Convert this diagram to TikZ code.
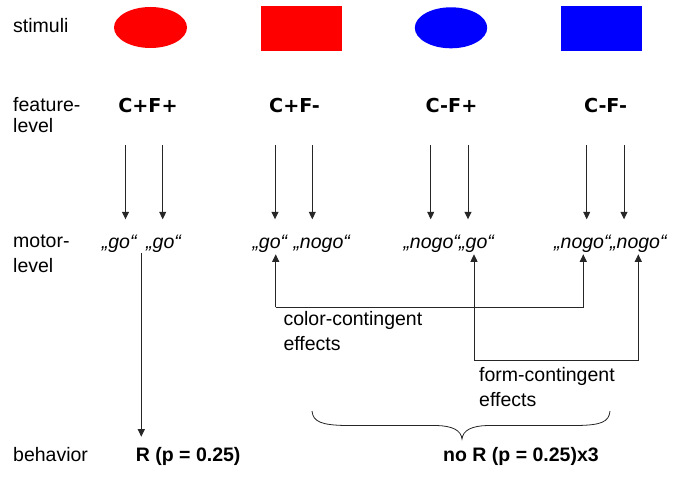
\documentclass[tikz,border=0pt]{standalone}
\usepackage{fontspec}
\setmainfont{Liberation Sans}
\newfontfamily\featfont{DejaVu Sans}
\usetikzlibrary{arrows.meta}
\begin{document}
\begin{tikzpicture}[x=1pt,y=-1pt,
  lbl/.style={anchor=base west,inner sep=0pt,font=\fontsize{19.5}{23}\selectfont},
  feat/.style={anchor=base,inner sep=0pt,font=\featfont\bfseries\fontsize{19.2}{23}\selectfont},
  motor/.style={anchor=base west,inner sep=0pt,font=\itshape\fontsize{19.5}{23}\selectfont},
  beh/.style={anchor=base west,inner sep=0pt,font=\bfseries\fontsize{19.5}{23}\selectfont},
  conn/.style={draw=black!85,line width=0.9pt},
  arr/.style={conn,-{Triangle[length=7.5pt,width=7pt]}}]
\useasboundingbox (0,0) rectangle (685,494);
% row labels
\node[lbl] (lstim) at (13,33) {stimuli};
\node[lbl] (lfeat1) at (13,112) {feature-};
\node[lbl] (lfeat2) at (13,133) {level};
\node[lbl] (lmot1) at (13,248) {motor-};
\node[lbl] (lmot2) at (13,272.7) {level};
\node[lbl] (lbeh) at (13,461.5) {behavior};
% stimuli
\fill[red] (150.5,27.5) ellipse [x radius=36.5,y radius=20.5];
\fill[red] (261,5.7) rectangle (341.7,50.7);
\fill[blue] (451,27.8) ellipse [x radius=36.2,y radius=20.5];
\fill[blue] (561.3,5.7) rectangle (642,50.7);
% feature level
\node[feat] (f1) at (148,113) {C+F+};
\node[feat] (f2) at (294.5,113) {C+F-};
\node[feat] (f3) at (451.5,113) {C-F+};
\node[feat] (f4) at (605.5,113) {C-F-};
% motor level
\node[motor] (m1a) at (101.7,248.3) {„go“};
\node[motor] (m1b) at (146,248.3) {„go“};
\node[motor] (m2a) at (252.3,248.3) {„go“};
\node[motor] (m2b) at (293.3,248.3) {„nogo“};
\node[motor] (m3a) at (403.3,248.3) {„nogo“};
\node[motor] (m3b) at (459,248.3) {„go“};
\node[motor] (m4a) at (554,248.3) {„nogo“};
\node[motor] (m4b) at (610,248.3) {„nogo“};
% feature -> motor arrows
\foreach \x/\n in {125.5/a1,162.7/b1,275/a2,312.3/b2,430.7/a3,468/b3,586.7/a4,624/b4}{
  \coordinate (s\n) at (\x,145);
  \coordinate (e\n) at (\x,219.3);
  \draw[arr] (s\n) -- (e\n);
}
% behavior
\node[beh] (r) at (135.7,461.7) {R (p = 0.25)};
\node[beh] (nor) at (443,461.7) {no R (p = 0.25)x3};
\coordinate (rs) at (141.3,253.3);
\coordinate (re) at (141.3,436.7);
\draw[arr] (rs) -- (re);
% colour-contingent effects
\coordinate (c1) at (275.7,307.3);
\coordinate (c2) at (583.3,307.3);
\coordinate (c1t) at (275.7,254.3);
\coordinate (c2t) at (583.3,254.3);
\draw[arr] (c1) -- (c1t);
\draw[arr] (c1) -- (c2) -- (c2t);
\node[lbl] (ct1) at (283.3,325) {color-contingent};
\node[lbl] (ct2) at (283.3,350) {effects};
% form-contingent effects
\coordinate (g1) at (474,360.7);
\coordinate (g2) at (638.3,360.7);
\coordinate (g1t) at (474,254.3);
\coordinate (g2t) at (638.3,254.3);
\draw[arr] (g1) -- (g1t);
\draw[arr] (g1) -- (g2) -- (g2t);
\node[lbl] (ft1) at (479,381.7) {form-contingent};
\node[lbl] (ft2) at (479,406.7) {effects};
% brace
\draw[conn,line width=0.8pt] (312,411) .. controls (313,422) and (322,425) .. (345,425.5)
  -- (437,425.5) .. controls (452,426) and (461,430) .. (462,439)
  .. controls (463,430) and (472,426) .. (487,425.5)
  -- (578,425.5) .. controls (601,425) and (609,422) .. (610,411);
\end{tikzpicture}
\end{document}
